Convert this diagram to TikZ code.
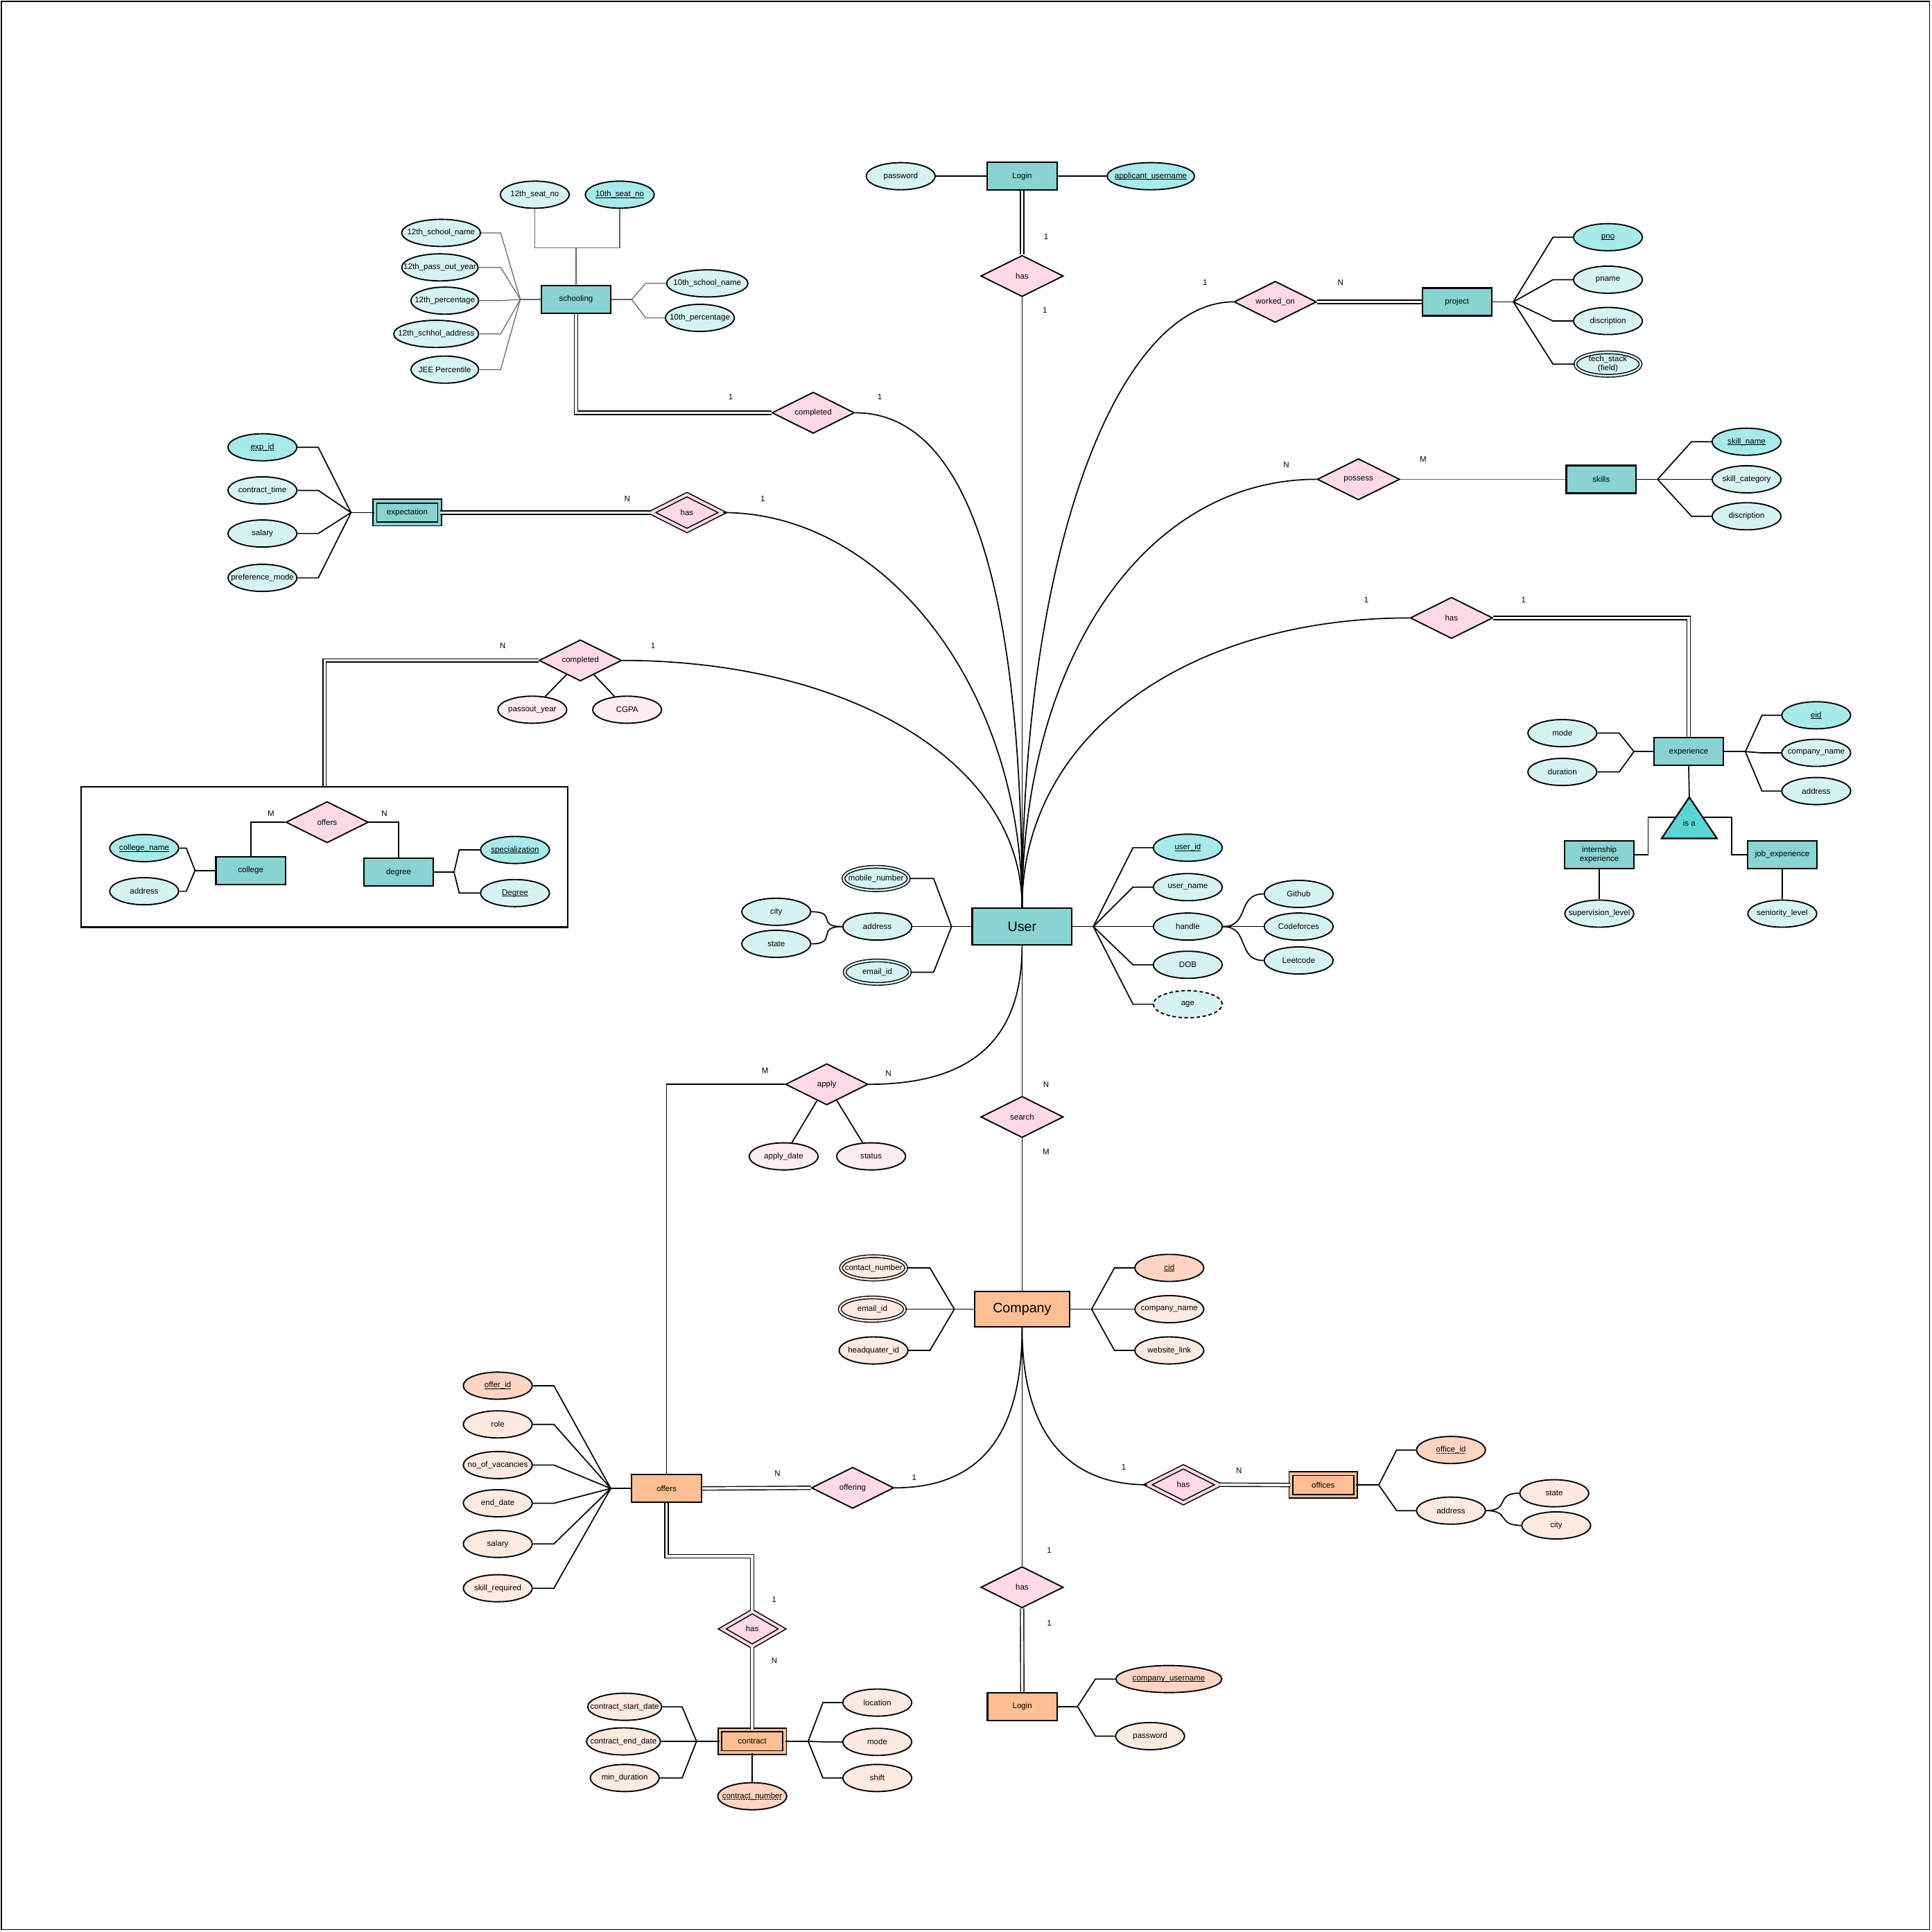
\documentclass[tikz,border=0pt]{standalone}
\usepackage{fontspec}
\setmainfont{Liberation Sans}
\usepackage{tikz}
\usetikzlibrary{shapes.geometric}

\definecolor{entcyan}{HTML}{88D4D3}
\definecolor{attcyan}{HTML}{D6F3F3}
\definecolor{keycyan}{HTML}{A6EBEA}
\definecolor{relpink}{HTML}{FFDAE4}
\definecolor{relattpink}{HTML}{FFEDF2}
\definecolor{entpeach}{HTML}{FFBF92}
\definecolor{attpeach}{HTML}{FFEAE0}
\definecolor{keypeach}{HTML}{FFD4C2}
\definecolor{isacyan}{HTML}{55D8D4}

\newsavebox{\attbox}
\newsavebox{\ulbox}
\newcommand{\keyul}[1]{\sbox{\ulbox}{#1}\rlap{\usebox{\ulbox}}\rule[-0.6pt]{\wd\ulbox}{0.22pt}}
\newcommand{\dotul}[1]{\sbox{\ulbox}{#1}\rlap{\usebox{\ulbox}}\raisebox{-0.6pt}{\hbox to \wd\ulbox{\leaders\hbox to 0.45pt{\hss\vrule width 0.22pt height 0.22pt\hss}\hfill}}}

\tikzset{
	every node/.append style={font=\fontsize{3.7}{4.2}\selectfont},
	ent/.style={rectangle, draw, line width=0.7pt, fill=entcyan, inner sep=0pt, minimum width=1.13cm, minimum height=0.45cm},
	went/.style={ent, double=entcyan, double distance=1.2pt, line width=0.55pt, minimum width=1.05cm, minimum height=0.37cm},
	cent/.style={ent, fill=entpeach},
	cwent/.style={went, fill=entpeach, double=entpeach},
	bigent/.style={minimum width=1.62cm, minimum height=0.6cm, font=\fontsize{6.3}{7.5}\selectfont},
	rel/.style={diamond, aspect=2, draw, line width=0.6pt, fill=relpink, inner sep=0pt, minimum width=1.34cm, minimum height=0.67cm},
	wrel/.style={rel, double=relpink, double distance=1.3pt, line width=0.5pt, minimum width=1.16cm, minimum height=0.59cm},
	ellb/.style={ellipse, draw, line width=0.6pt, fill=attcyan, inner sep=0pt, minimum width=1.12cm, minimum height=0.44cm},
	att/.style={ellb, execute at begin node={\setbox\attbox=\hbox\bgroup}, execute at end node={\egroup\makebox[0pt]{\usebox\attbox}}},
	katt/.style={att, fill=keycyan},
	matt/.style={att, double=attcyan, double distance=0.8pt, line width=0.45pt, minimum width=1.06cm, minimum height=0.38cm},
	datt/.style={att, dash pattern=on 1.6pt off 1.2pt},
	ratt/.style={att, fill=relattpink},
	patt/.style={att, fill=attpeach},
	pkatt/.style={att, fill=keypeach},
	pmatt/.style={matt, fill=attpeach, double=attpeach},
	card/.style={inner sep=0pt},
	ln/.style={line width=0.55pt},
	thinln/.style={line width=0.4pt, black!60},
	dbl/.style={double, double distance=1.1pt, line width=0.45pt}
}

\begin{document}
\begin{tikzpicture}[x=0.02cm, y=-0.02cm]
	\useasboundingbox (0,0) rectangle (1568,1568);
	\draw[line width=0.6pt] (1,1) rectangle (1566,1566);

	\node[ent] (login1) at (829.5,143) {Login};
	\node[att] (pw1) at (731,143) {password};
	\node[katt, minimum width=1.42cm] (appuser) at (934,143) {\keyul{applicant\_username}};
	\node[rel] (has1) at (829.5,224) {has};
	\node[card] (c1a) at (849,192) {1};
	\node[card] (c1b) at (848,252) {1};

	\node[ent] (school) at (467.5,243) {schooling};
	\node[att] (seat12) at (434,158) {12th\_seat\_no};
	\node[katt] (seat10) at (503,158) {\keyul{10th\_seat\_no}};
	\node[att, minimum width=1.28cm] (sname12) at (358,189) {12th\_school\_name};
	\node[att, minimum width=1.24cm] (pass12) at (357,217) {12th\_pass\_out\_year};
	\node[att, minimum width=1.1cm] (perc12) at (361,244) {12th\_percentage};
	\node[att, minimum width=1.38cm] (addr12) at (354,271) {12th\_schhol\_address};
	\node[att, minimum width=1.1cm] (jee) at (361,300) {JEE Percentile};
	\node[att, minimum width=1.32cm] (sname10) at (574,230) {10th\_school\_name};
	\node[att] (perc10) at (568,258) {10th\_percentage};
	\node[rel] (comp1) at (660,335) {completed};
	\node[card] (c2a) at (593,322) {1};
	\node[card] (c2b) at (714,322) {1};

	\node[went] (expct) at (330.5,416) {expectation};
	\node[katt] (expid) at (213,363) {\dotul{exp\_id}};
	\node[att] (ctime) at (213,398) {contract\_time};
	\node[att] (sal) at (213,433) {salary};
	\node[att] (pmode) at (213,469) {preference\_mode};
	\node[wrel] (hasE) at (557.5,416) {has};
	\node[card] (c3a) at (509,405) {N};
	\node[card] (c3b) at (619,405) {1};

	\node[rel] (worked) at (1035,245) {worked\_on};
	\node[card] (c4a) at (978,229) {1};
	\node[card] (c4b) at (1088,229) {N};
	\node[ent] (project) at (1182.5,245) {project};
	\node[katt] (pno) at (1305,192.5) {\keyul{pno}};
	\node[att] (pname) at (1305,227) {pname};
	\node[att] (pdesc) at (1305,260.5) {discription};
	\node[ellb, double=attcyan, double distance=0.8pt, line width=0.45pt, minimum width=1.06cm, minimum height=0.38cm, align=center] (tech) at (1305,295.5) {tech\_stack\\(field)};

	\node[rel] (possess) at (1102.5,389) {possess};
	\node[card] (c5a) at (1044,377) {N};
	\node[card] (c5b) at (1155,373) {M};
	\node[ent] (skills) at (1299.5,389) {skills};
	\node[katt] (skname) at (1417.5,358.5) {\keyul{skill\_name}};
	\node[att] (skcat) at (1417.5,389) {skill\_category};
	\node[att] (skdesc) at (1417.5,419) {discription};

	\node[rel] (hasX) at (1178,501.5) {has};
	\node[card] (c6a) at (1109,487) {1};
	\node[card] (c6b) at (1236.5,487) {1};
	\node[ent] (exper) at (1370.5,610) {experience};
	\node[att] (mode) at (1268,595) {mode};
	\node[att] (dur) at (1268,626.5) {duration};
	\node[katt] (eid) at (1474,580.5) {\keyul{eid}};
	\node[att] (xcname) at (1474,611) {company\_name};
	\node[att] (xaddr) at (1474,642) {address};
	\node[ent, align=center] (intern) at (1298,693.5) {internship\\experience};
	\node[ent] (job) at (1446.5,693.5) {job\_experience};
	\node[att] (suplev) at (1298,741.5) {supervision\_level};
	\node[att] (senlev) at (1446.5,741.5) {seniority\_level};
	\coordinate (isatop) at (1371,647);
	\coordinate (isabl) at (1348.5,680.5);
	\coordinate (isabr) at (1393.5,680.5);
	\coordinate (isaL) at (1360.3,663.3);
	\coordinate (isaR) at (1381.7,663.3);
	\draw[line width=0.7pt, fill=isacyan] (isatop) -- (isabr) -- (isabl) -- cycle;
	\node (isa) at (1371,668) {is a};

	\node[rel] (comp2) at (471,536) {completed};
	\node[card] (c7a) at (408,524) {N};
	\node[card] (c7b) at (530,524) {1};
	\node[ratt] (passout) at (432,576) {passout\_year};
	\node[ratt] (cgpa) at (509,576) {CGPA};
	\node[draw, line width=0.7pt, inner sep=0pt, minimum width=7.9cm, minimum height=2.28cm] (cbox) at (263.5,695.5) {};
	\node[rel] (offers2) at (265.5,667.3) {offers};
	\node[card] (c8a) at (220,660) {M};
	\node[card] (c8b) at (312,660) {N};
	\node[ent] (college) at (203.5,706.5) {college};
	\node[ent] (degree) at (323.5,707.8) {degree};
	\node[katt] (cname) at (117,688.3) {\keyul{college\_name}};
	\node[att] (caddr) at (117,723.3) {address};
	\node[katt] (spec) at (418,689.8) {\keyul{specialization}};
	\node[att] (deg) at (418,724.8) {\keyul{Degree}};

	\node[ent, bigent] (user) at (829.5,752) {User};
	\node[matt] (mobile) at (711,713) {mobile\_number};
	\node[att] (uaddr) at (712,752) {address};
	\node[matt] (uemail) at (712,789) {email\_id};
	\node[att] (city) at (630,740) {city};
	\node[att] (state) at (630,766) {state};
	\node[katt] (uid) at (964,688) {\keyul{user\_id}};
	\node[att] (uname) at (964,720) {user\_name};
	\node[att] (handle) at (964,752) {handle};
	\node[att] (dob) at (964,783) {DOB};
	\node[datt] (age) at (964,815) {age};
	\node[att] (github) at (1054,725.5) {Github};
	\node[att] (cf) at (1054,752) {Codeforces};
	\node[att] (lc) at (1054,779.5) {Leetcode};

	\node[rel] (apply) at (671,880) {apply};
	\node[card] (c9a) at (621,869) {M};
	\node[card] (c9b) at (721,871) {N};
	\node[ratt] (adate) at (636,938.5) {apply\_date};
	\node[ratt] (status) at (707,938.5) {status};
	\node[rel] (search) at (829.5,906.5) {search};
	\node[card] (c10a) at (849,880) {N};
	\node[card] (c10b) at (849,935) {M};

	\node[cent, bigent, minimum width=1.54cm, minimum height=0.58cm] (company) at (829.5,1062.5) {Company};
	\node[pmatt] (cnum) at (709,1029) {contact\_number};
	\node[pmatt] (cemail) at (708,1062.5) {email\_id};
	\node[patt] (hq) at (709,1096) {headquater\_id};
	\node[pkatt] (cid) at (949,1029) {\keyul{cid}};
	\node[patt] (ccname) at (949,1062.5) {company\_name};
	\node[patt] (web) at (949,1096) {website\_link};

	\node[cent] (offers) at (541,1208) {offers};
	\node[rel] (offering) at (692,1207.5) {offering};
	\node[card] (c11a) at (631,1196) {N};
	\node[card] (c11b) at (742,1199) {1};
	\node[pkatt] (offid) at (404,1124.6) {\keyul{offer\_id}};
	\node[patt] (role) at (404,1156) {role};
	\node[patt] (vac) at (404,1189) {no\_of\_vacancies};
	\node[patt] (edate) at (404,1220) {end\_date};
	\node[patt] (osal) at (404,1253) {salary};
	\node[patt] (skreq) at (404,1289) {skill\_required};

	\node[wrel, minimum width=0.98cm, minimum height=0.57cm] (hasC) at (610.5,1322) {has};
	\node[card] (c12a) at (628.4,1298.4) {1};
	\node[card] (c12b) at (628.4,1347.5) {N};
	\node[cwent] (contract) at (610.5,1413.2) {contract};
	\node[patt, minimum width=1.2cm] (cstart) at (507,1385.2) {contract\_start\_date};
	\node[patt, minimum width=1.2cm] (cend) at (506,1413.3) {contract\_end\_date};
	\node[patt] (mindur) at (507,1443) {min\_duration};
	\node[patt] (loc) at (712,1381.8) {location};
	\node[patt] (cmode) at (712,1413.7) {mode};
	\node[patt] (shift) at (712,1443) {shift};
	\node[pkatt] (cnumber) at (610.5,1457.8) {\dotul{contract\_number}};

	\node[wrel] (hasO) at (960.4,1205) {has};
	\node[card] (c13a) at (912,1191) {1};
	\node[card] (c13b) at (1005.5,1193.7) {N};
	\node[cwent] (offices) at (1073.9,1205.2) {offices};
	\node[pkatt] (offid2) at (1177.6,1176.8) {\dotul{office\_id}};
	\node[patt] (oaddr) at (1177.6,1226) {address};
	\node[patt] (ostate) at (1261.4,1211.9) {state};
	\node[patt] (ocity) at (1263,1238) {city};

	\node[rel] (hasL) at (829.5,1288.2) {has};
	\node[card] (c14a) at (851.6,1258.4) {1};
	\node[card] (c14b) at (851.6,1317.5) {1};
	\node[cent] (login2) at (829.7,1385) {Login};
	\node[pkatt, minimum width=1.72cm] (cuser) at (948.6,1362.7) {\keyul{company\_username}};
	\node[patt] (cpw) at (933.4,1409) {password};

	\draw[ln] (pw1.east) -- (login1.west);
	\draw[ln] (login1.east) -- (appuser.west);
	\draw[dbl] (login1.south) -- (has1.north);
	\draw[ln] (has1.south) -- (user.north);

	\coordinate (seatj) at (467.5,201.3);
	\coordinate (shubL) at (422.3,243);
	\coordinate (selbL) at (406.3,243);
	\coordinate (shubR) at (512.7,243);
	\coordinate (selbR) at (524,243);
	\draw[thinln] (seat12.south) |- (seatj) -- (school.north);
	\draw[thinln] (seat10.south) |- (seatj);
	\draw[thinln] (school.west) -- (shubL);
	\foreach \n in {sname12,pass12,perc12,addr12,jee}
		\draw[thinln] (shubL) -- (selbL |- \n.east) -- (\n.east);
	\draw[thinln] (school.east) -- (shubR);
	\foreach \n in {sname10,perc10}
		\draw[thinln] (shubR) -- (selbR |- \n.west) -- (\n.west);
	\draw[dbl] (school.south) |- (comp1.west);
	\draw[ln] (comp1.east) .. controls +(95,0) and +(0,-250) .. (user.north);

	\coordinate (xhub) at (284.9,416);
	\coordinate (xelb) at (258.3,416);
	\draw[ln] (expct.west) -- (xhub);
	\foreach \n in {expid,ctime,sal,pmode}
		\draw[ln] (xhub) -- (xelb |- \n.east) -- (\n.east);
	\draw[dbl] (expct.east) -- (hasE.west);
	\draw[ln] (hasE.east) .. controls +(130,0) and +(0,-180) .. (user.north);

	\draw[ln] (worked.west) .. controls +(-90,0) and +(0,-300) .. (user.north);
	\draw[dbl] (worked.east) -- (project.west);
	\coordinate (phub) at (1228.2,245);
	\coordinate (pelb) at (1260.4,245);
	\draw[ln] (project.east) -- (phub);
	\foreach \n in {pno,pname,pdesc,tech}
		\draw[ln] (phub) -- (pelb |- \n.west) -- (\n.west);

	\draw[ln] (possess.west) .. controls +(-140,0) and +(0,-200) .. (user.north);
	\draw[thinln] (possess.east) -- (skills.west);
	\coordinate (skhub) at (1345.3,389);
	\coordinate (skelb) at (1372.8,389);
	\draw[ln] (skills.east) -- (skhub);
	\foreach \n in {skname,skcat,skdesc}
		\draw[ln] (skhub) -- (skelb |- \n.west) -- (\n.west);

	\draw[ln] (hasX.west) .. controls +(-180,0) and +(0,-140) .. (user.north);
	\draw[dbl] (hasX.east) -| (exper.north);
	\coordinate (ehubL) at (1326.1,610);
	\coordinate (eelbL) at (1314.1,610);
	\coordinate (ehubR) at (1416.5,610);
	\coordinate (eelbR) at (1430,610);
	\draw[ln] (exper.west) -- (ehubL);
	\foreach \n in {mode,dur}
		\draw[ln] (ehubL) -- (eelbL |- \n.east) -- (\n.east);
	\draw[ln] (exper.east) -- (ehubR);
	\foreach \n in {eid,xcname,xaddr}
		\draw[ln] (ehubR) -- (eelbR |- \n.west) -- (\n.west);
	\draw[ln] (exper.south) -- (isatop);
	\draw[ln] (isaL) -- ++(-22.7,0) |- (intern.east);
	\draw[ln] (isaR) -- ++(23.7,0) |- (job.west);
	\draw[ln] (intern.south) -- (suplev.north);
	\draw[ln] (job.south) -- (senlev.north);

	\draw[ln] (comp2.east) .. controls +(180,0) and +(0,-120) .. (user.north);
	\draw[dbl] (comp2.west) -| (cbox.north);
	\draw[ln] (comp2) -- (passout);
	\draw[ln] (comp2) -- (cgpa);
	\draw[ln] (college.north) |- (offers2.west);
	\draw[ln] (degree.north) |- (offers2.east);
	\coordinate (chub) at (158.3,706.5);
	\coordinate (celb) at (151.2,706.5);
	\coordinate (dhub) at (368.5,707.8);
	\coordinate (delb) at (372.7,707.8);
	\draw[ln] (college.west) -- (chub);
	\foreach \n in {cname,caddr}
		\draw[ln] (chub) -- (celb |- \n.east) -- (\n.east);
	\draw[ln] (degree.east) -- (dhub);
	\foreach \n in {spec,deg}
		\draw[ln] (dhub) -- (delb |- \n.west) -- (\n.west);

	\coordinate (uhubL) at (772.3,752);
	\coordinate (uelbL) at (757.7,752);
	\coordinate (uhubR) at (887.3,752);
	\coordinate (uelbR) at (919.5,752);
	\draw[ln] (user.west) -- (uhubL);
	\draw[ln] (uhubL) -- (uaddr.east);
	\foreach \n in {mobile,uemail}
		\draw[ln] (uhubL) -- (uelbL |- \n.east) -- (\n.east);
	\foreach \n in {city,state}
		\draw[ln] (\n.east) .. controls +(22,0) and +(-22,0) .. (uaddr.west);
	\draw[ln] (user.east) -- (uhubR);
	\foreach \n in {uid,uname,handle,dob,age}
		\draw[ln] (uhubR) -- (uelbR |- \n.west) -- (\n.west);
	\foreach \n in {github,cf,lc}
		\draw[ln] (handle.east) .. controls +(22,0) and +(-22,0) .. (\n.west);

	\draw[ln] (apply.east) .. controls +(85,0) and +(0,75) .. (user.south);
	\draw[ln] (apply.west) -| (offers.north);
	\draw[ln] (apply) -- (adate);
	\draw[ln] (apply) -- (status);
	\draw[ln] (user.south) -- (search.north);
	\draw[ln] (search.south) -- (company.north);

	\coordinate (kohubL) at (774.5,1062.5);
	\coordinate (koelbL) at (754.7,1062.5);
	\coordinate (kohubR) at (885.9,1062.5);
	\coordinate (koelbR) at (904.5,1062.5);
	\draw[ln] (company.west) -- (kohubL);
	\foreach \n in {cnum,cemail,hq}
		\draw[ln] (kohubL) -- (koelbL |- \n.east) -- (\n.east);
	\draw[ln] (company.east) -- (kohubR);
	\foreach \n in {cid,ccname,web}
		\draw[ln] (kohubR) -- (koelbR |- \n.west) -- (\n.west);

	\draw[dbl] (offers.east) -- (offering.west);
	\draw[ln] (offering.east) .. controls +(75,0) and +(0,80) .. (company.south);
	\coordinate (ofhub) at (495.7,1208);
	\coordinate (ofelb) at (449.5,1208);
	\draw[ln] (offers.west) -- (ofhub);
	\foreach \n in {offid,role,vac,edate,osal,skreq}
		\draw[ln] (ofhub) -- (ofelb |- \n.east) -- (\n.east);

	\coordinate (offbend) at (541,1263);
	\draw[dbl] (offers.south) -- (offbend) -| (hasC.north);
	\draw[dbl] (hasC.south) -- (contract.north);
	\coordinate (kchubL) at (565.3,1413.2);
	\coordinate (kcelbL) at (553.6,1413.2);
	\coordinate (kchubR) at (655.9,1413.2);
	\coordinate (kcelbR) at (667.9,1413.2);
	\draw[ln] (contract.west) -- (kchubL);
	\foreach \n in {cstart,cend,mindur}
		\draw[ln] (kchubL) -- (kcelbL |- \n.east) -- (\n.east);
	\draw[ln] (contract.east) -- (kchubR);
	\foreach \n in {loc,cmode,shift}
		\draw[ln] (kchubR) -- (kcelbR |- \n.west) -- (\n.west);
	\draw[ln] (contract.south) -- (cnumber.north);

	\draw[ln] (company.south) .. controls +(0,85) and +(-65,0) .. (hasO.west);
	\draw[dbl] (hasO.east) -- (offices.west);
	\coordinate (ohub) at (1119,1205.2);
	\coordinate (oelb) at (1133.5,1205.2);
	\draw[ln] (offices.east) -- (ohub);
	\foreach \n in {offid2,oaddr}
		\draw[ln] (ohub) -- (oelb |- \n.west) -- (\n.west);
	\foreach \n in {ostate,ocity}
		\draw[ln] (oaddr.east) .. controls +(20,0) and +(-20,0) .. (\n.west);

	\draw[ln] (company.south) -- (hasL.north);
	\draw[dbl] (hasL.south) -- (login2.north);
	\coordinate (lhub) at (874.5,1385);
	\coordinate (lelb) at (889,1385);
	\draw[ln] (login2.east) -- (lhub);
	\foreach \n in {cuser,cpw}
		\draw[ln] (lhub) -- (lelb |- \n.west) -- (\n.west);
\end{tikzpicture}
\end{document}
